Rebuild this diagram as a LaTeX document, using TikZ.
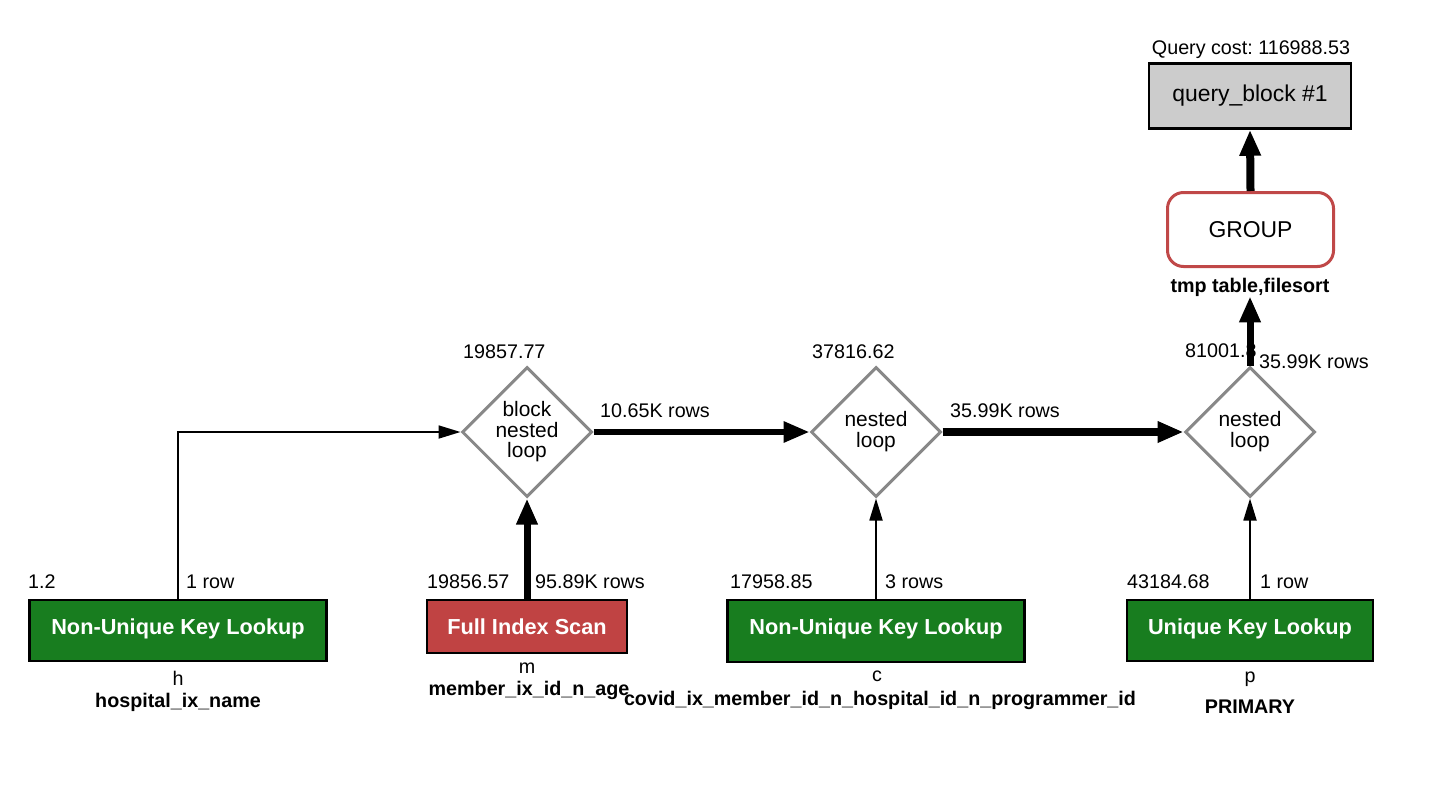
\documentclass[tikz,border=0pt]{standalone}
\usepackage{fontspec}
\setmainfont{Liberation Sans}
\usetikzlibrary{arrows.meta,shapes.geometric}
\frenchspacing

\definecolor{opgreen}{RGB}{24,125,31}
\definecolor{opred}{RGB}{192,67,67}
\definecolor{grpred}{RGB}{192,72,72}
\definecolor{diagray}{RGB}{136,136,136}
\definecolor{qbgray}{RGB}{204,204,204}

\tikzset{
  lbl/.style={font=\fontsize{19.8}{22}\selectfont, inner sep=0pt, anchor=base},
  lblw/.style={lbl, anchor=base west},
  keylbl/.style={lbl, font=\fontsize{19.8}{22}\selectfont\bfseries},
  opbox/.style={draw=black, line width=2.5bp, inner sep=0pt, text=white,
    font=\fontsize{21.8}{24}\selectfont\bfseries},
  lookup/.style={opbox, fill=opgreen, text height=16bp, text depth=9bp},
  qbox/.style={draw=black, line width=2.5bp, fill=qbgray, inner sep=0pt,
    minimum width=202bp, minimum height=65bp, font=\fontsize{23}{25}\selectfont},
  grpbox/.style={draw=grpred, line width=3bp, fill=white, rounded corners=16bp,
    inner sep=0pt, minimum width=166bp, minimum height=74bp,
    font=\fontsize{23}{25}\selectfont},
  joinshape/.style={diamond, aspect=1, draw=diagray, line width=3bp, fill=white,
    inner sep=0pt, minimum width=130bp, minimum height=130bp},
  jointext/.style={align=center, inner sep=0pt,
    font=\fontsize{21}{20.5}\selectfont},
  thinarrow/.style={line width=1.8bp, -{Triangle[length=22bp,width=13bp]}},
  thickarrow/.style={-{Triangle[length=26bp,width=20bp]}},
}

\begin{document}
\begin{tikzpicture}[x=1bp,y=-1bp]
\useasboundingbox (0,0) rectangle (1444,798);

% result block and grouping
\node[lbl] (qcost) at (1251,55) {Query cost: 116988.53};
\node[qbox] (qb) at (1250,96) {query\_block \#1};
\node[grpbox] (grp) at (1250.5,229.5) {GROUP};
\node[keylbl] (grpx) at (1250,292) {tmp table,filesort};

% join operators
\node[joinshape] (d1) at (527,432) {};
\node[joinshape] (d2) at (876,432) {};
\node[joinshape] (d3) at (1250,432) {};
\node[jointext] (d1t) at (527,432) {block\\nested\\loop};
\node[jointext] (d2t) at (876,431.5) {nested\\loop};
\node[jointext] (d3t) at (1250,431.5) {nested\\loop};

\node[lblw] (d1c) at (463,358) {19857.77};
\node[lblw] (d2c) at (812,358) {37816.62};
\node[lblw] (d3c) at (1185,357) {81001.8};

% table access operators
\node[lookup, minimum width=297bp, minimum height=61bp] (h) at (178,630.5) {Non-Unique Key Lookup};
\node[opbox, fill=opred, minimum width=200bp, minimum height=53bp] (m) at (527,626.5) {Full Index Scan};
\node[lookup, minimum width=297bp, minimum height=62bp] (c) at (876,631) {Non-Unique Key Lookup};
\node[lookup, minimum width=246bp, minimum height=61bp] (p) at (1250,630.5) {Unique Key Lookup};

% costs and row counts above the access operators
\node[lblw] (hc) at (28,588) {1.2};
\node[lblw] (hr) at (186,588) {1 row};
\node[lblw] (mc) at (427,588) {19856.57};
\node[lblw] (mr) at (535,588) {95.89K rows};
\node[lblw] (cc) at (730,588) {17958.85};
\node[lblw] (cr) at (885,588) {3 rows};
\node[lblw] (pc) at (1127,588) {43184.68};
\node[lblw] (pr) at (1260,588) {1 row};

% table aliases and keys
\node[lbl] (ht) at (178,685) {h};
\node[keylbl] (hk) at (178,707) {hospital\_ix\_name};
\node[lbl] (mt) at (527,673) {m};
\node[keylbl] (mk) at (529,695) {member\_ix\_id\_n\_age};
\node[lbl] (ct) at (877,681) {c};
\node[keylbl] (ck) at (880,705) {covid\_ix\_member\_id\_n\_hospital\_id\_n\_programmer\_id};
\node[lbl] (pt) at (1250,682) {p};
\node[keylbl] (pk) at (1250,713) {PRIMARY};

% row counts between joins
\node[lblw] (e12) at (600,417) {10.65K rows};
\node[lblw] (e23) at (950,417) {35.99K rows};
\node[lblw] (e34) at (1259,368) {35.99K rows};

% data flow
\draw[thinarrow] (h.north) |- (d1.west);
\draw[thickarrow, line width=7bp] (m.north) -- (d1.south);
\draw[thickarrow, line width=6bp] (d1.east) -- (d2.west);
\draw[thickarrow, line width=8bp] (d2.east) -- (d3.west);
\draw[thinarrow] (c.north) -- (d2.south);
\draw[thinarrow] (p.north) -- (d3.south);
\draw[thickarrow, line width=7bp] (d3.north) -- (grpx.south);
\draw[thickarrow, line width=8bp] (grp.north) -- (qb.south);
\end{tikzpicture}
\end{document}
